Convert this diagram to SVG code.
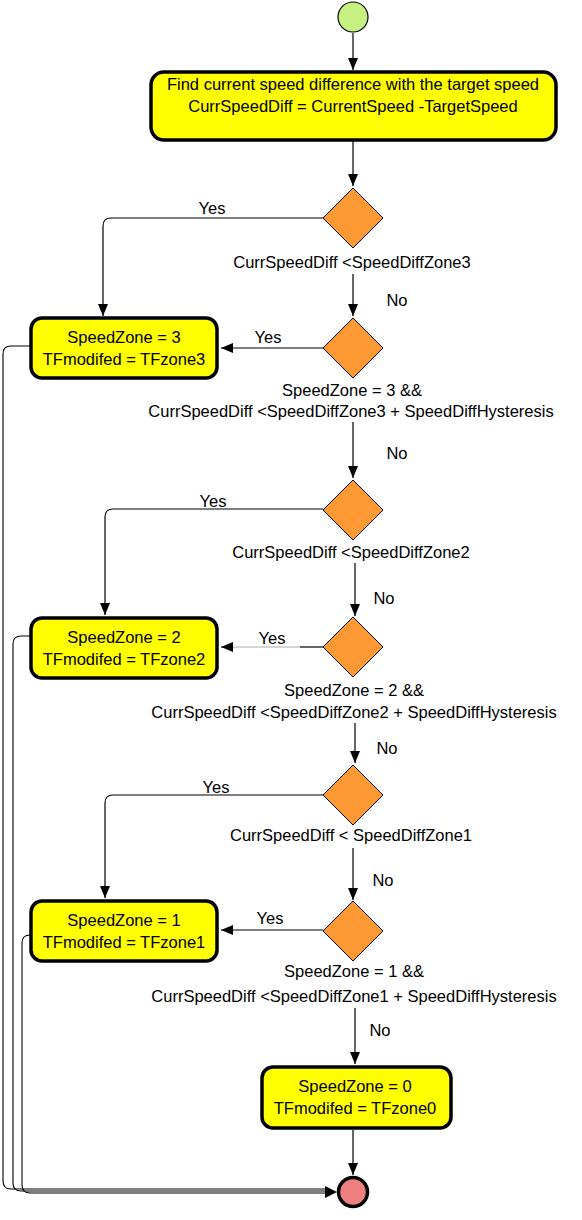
<svg xmlns="http://www.w3.org/2000/svg" width="582" height="1220" viewBox="0 0 582 1220">
<defs>
<marker id="arr" viewBox="0 0 12 10" refX="12" refY="5" markerWidth="12" markerHeight="10" markerUnits="userSpaceOnUse" orient="auto">
<path d="M0,0 L12,5 L0,10 Z" fill="#000"/>
</marker>
</defs>
<style>
text{font-family:"Liberation Sans",Arial,sans-serif;font-size:16.5px;fill:#000;text-anchor:middle}
.box{fill:#ffff00;stroke:#000;stroke-width:3.5}
.dia{fill:#ff9933;stroke:#000;stroke-width:1}
.c{fill:none;stroke:#000;stroke-width:1.2}
.r{fill:none;stroke:#000;stroke-width:1.1}
</style>
<rect width="582" height="1220" fill="#fff"/>
<g id="connectors">
<path class="c" d="M353,33 V70" marker-end="url(#arr)"/>
<path class="c" d="M353,141 V186" marker-end="url(#arr)"/>
<path class="c" d="M323,218 H111 Q103,218 103,226 V316" marker-end="url(#arr)"/>
<path class="c" d="M353,274 V316" marker-end="url(#arr)"/>
<path class="c" d="M323,348 H221" marker-end="url(#arr)"/>
<path class="c" d="M353,422 V478" marker-end="url(#arr)"/>
<path class="c" d="M323,509 H113 Q105,509 105,517 V615" marker-end="url(#arr)"/>
<path class="c" d="M355,563 V616" marker-end="url(#arr)"/>
<path d="M300,647 H233" fill="none" stroke="#aaa" stroke-width="1"/>
<path class="c" d="M323,647 H300"/>
<path d="M233,647 H221" fill="none" stroke="#000" stroke-width="1" marker-end="url(#arr)"/>
<path class="c" d="M355,723 V763" marker-end="url(#arr)"/>
<path class="c" d="M323,795 H113 Q105,795 105,803 V898" marker-end="url(#arr)"/>
<path class="c" d="M353,848 V900" marker-end="url(#arr)"/>
<path class="c" d="M323,930 H221" marker-end="url(#arr)"/>
<path class="c" d="M355,1008 V1064" marker-end="url(#arr)"/>
<path class="c" d="M353,1130 V1175" marker-end="url(#arr)"/>
<path class="r" d="M30,346 H11 Q3,346 3,354 V1181 Q3,1189 11,1189 H330"/>
<path class="r" d="M30,636 H21 Q13,636 13,644 V1183 Q13,1191 21,1191 H330"/>
<path class="r" d="M30,935 Q22,935 22,943 V1185 Q22,1193 30,1193 H330"/>
<path d="M325,1186 L337,1192 L325,1198 Z" fill="#000"/>
</g>
<g id="start"><circle cx="353" cy="17" r="15" fill="#c6f07f" stroke="#000" stroke-width="1.2"/></g>
<g id="calc">
<rect class="box" x="151" y="72" width="405" height="68" rx="13"/>
<text x="353" y="90">Find current speed difference with the target speed</text>
<text x="353" y="112">CurrSpeedDiff = CurrentSpeed -TargetSpeed</text>
</g>
<g id="d1">
<path class="dia" d="M353,188 L383,218 L353,248 L323,218 Z"/>
<text x="352" y="268">CurrSpeedDiff &lt;SpeedDiffZone3</text>
</g>
<g id="d2">
<path class="dia" d="M353,318 L383,348 L353,378 L323,348 Z"/>
<text x="352" y="396">SpeedZone = 3 &amp;&amp;</text>
<text x="351" y="417">CurrSpeedDiff &lt;SpeedDiffZone3 + SpeedDiffHysteresis</text>
</g>
<g id="z3">
<rect class="box" x="31" y="318" width="186" height="60" rx="11"/>
<text x="124" y="343">SpeedZone = 3</text>
<text x="124" y="365">TFmodifed = TFzone3</text>
</g>
<g id="d3">
<path class="dia" d="M353,480 L383,510 L353,540 L323,510 Z"/>
<text x="351" y="558">CurrSpeedDiff &lt;SpeedDiffZone2</text>
</g>
<g id="d4">
<path class="dia" d="M353,617 L383,647 L353,677 L323,647 Z"/>
<text x="354" y="696">SpeedZone = 2 &amp;&amp;</text>
<text x="354" y="718">CurrSpeedDiff &lt;SpeedDiffZone2 + SpeedDiffHysteresis</text>
</g>
<g id="z2">
<rect class="box" x="31" y="618" width="186" height="60" rx="11"/>
<text x="124" y="643">SpeedZone = 2</text>
<text x="124" y="665">TFmodifed = TFzone2</text>
</g>
<g id="d5">
<path class="dia" d="M353,765 L383,795 L353,825 L323,795 Z"/>
<text x="351" y="841">CurrSpeedDiff &lt; SpeedDiffZone1</text>
</g>
<g id="d6">
<path class="dia" d="M353,901 L383,931 L353,961 L323,931 Z"/>
<text x="354" y="977">SpeedZone = 1 &amp;&amp;</text>
<text x="354" y="1002">CurrSpeedDiff &lt;SpeedDiffZone1 + SpeedDiffHysteresis</text>
</g>
<g id="z1">
<rect class="box" x="31" y="901" width="186" height="60" rx="11"/>
<text x="124" y="926">SpeedZone = 1</text>
<text x="124" y="948">TFmodifed = TFzone1</text>
</g>
<g id="z0">
<rect class="box" x="262" y="1067" width="189" height="61" rx="11"/>
<text x="355" y="1092">SpeedZone = 0</text>
<text x="355" y="1114">TFmodifed = TFzone0</text>
</g>
<g id="end"><circle cx="353" cy="1192" r="14.5" fill="#f08080" stroke="#000" stroke-width="3.5"/></g>
<g id="labels">
<text x="212" y="214">Yes</text>
<text x="397" y="306">No</text>
<text x="268" y="343">Yes</text>
<text x="397" y="459">No</text>
<text x="213" y="507">Yes</text>
<text x="384" y="604">No</text>
<text x="272" y="644">Yes</text>
<text x="387" y="754">No</text>
<text x="216" y="793">Yes</text>
<text x="383" y="886">No</text>
<text x="270" y="924">Yes</text>
<text x="380" y="1036">No</text>
</g>
</svg>
